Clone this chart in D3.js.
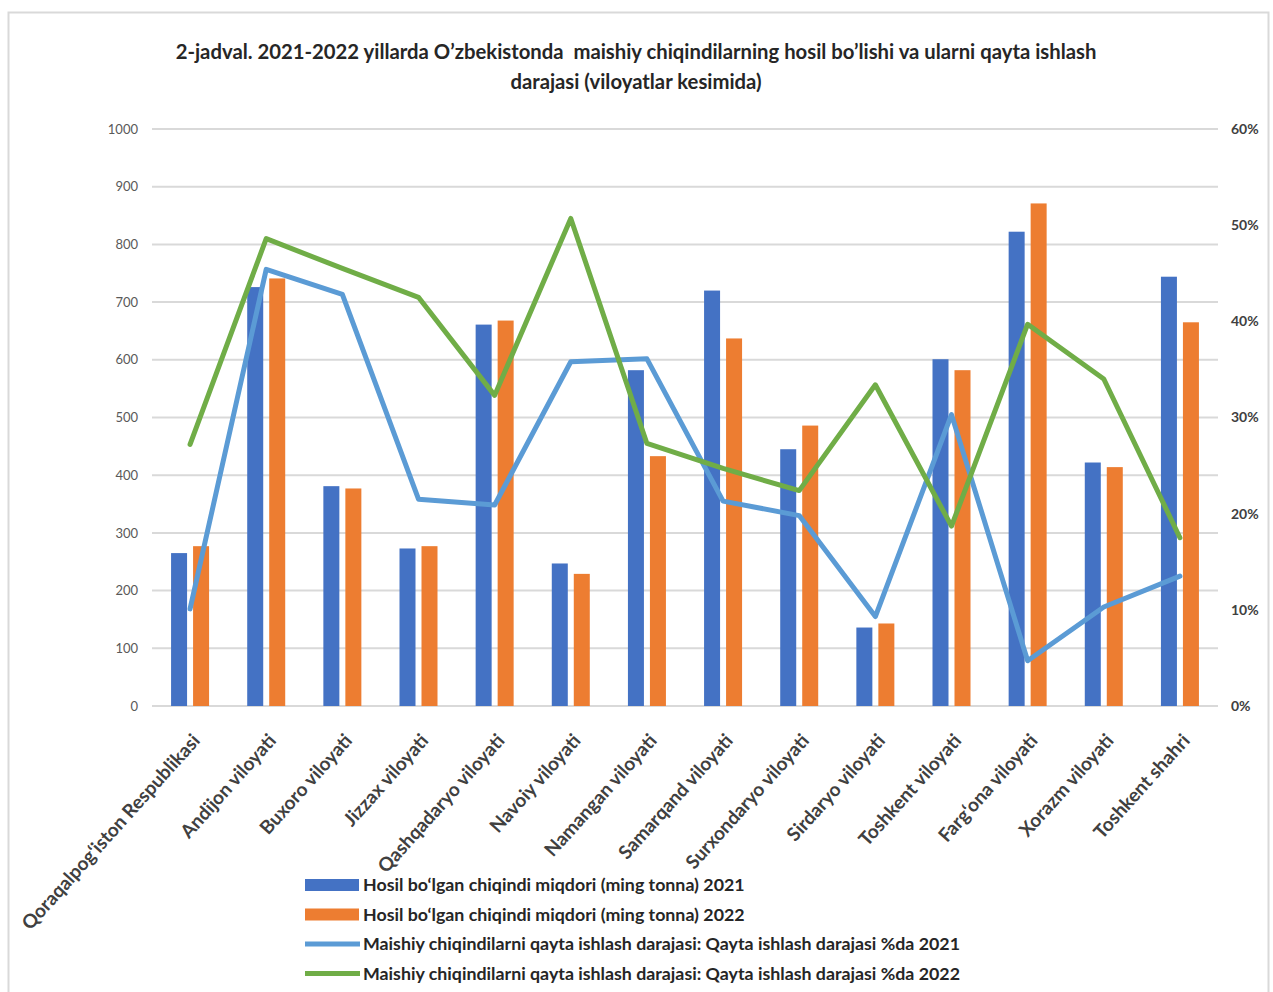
<!DOCTYPE html>
<html>
<head>
<meta charset="utf-8">
<script src="https://cdn.jsdelivr.net/npm/d3@7"></script>
<style>
  html, body { margin: 0; padding: 0; background: #ffffff; }
  svg { display: block; }
  .pre { white-space: pre; }
</style>
</head>
<body>
<svg id="chart" width="1273" height="992"></svg>
<script>
const categories = [
  "Qoraqalpog‘iston Respublikasi", "Andijon viloyati", "Buxoro viloyati", "Jizzax viloyati",
  "Qashqadaryo viloyati", "Navoiy viloyati", "Namangan viloyati", "Samarqand viloyati",
  "Surxondaryo viloyati", "Sirdaryo viloyati", "Toshkent viloyati", "Farg‘ona viloyati",
  "Xorazm viloyati", "Toshkent shahri"
];
const waste2021 = [265, 726, 381, 273, 661, 247, 582, 720, 445, 136, 601, 822, 422, 744];
const waste2022 = [277, 741, 377, 277, 668, 229, 433, 637, 486, 143, 582, 871, 414, 665];
const rate2021 = [10.1, 45.4, 42.8, 21.5, 20.9, 35.8, 36.1, 21.3, 19.8, 9.3, 30.3, 4.7, 10.3, 13.5];
const rate2022 = [27.2, 48.6, 45.5, 42.5, 32.3, 50.7, 27.3, 24.7, 22.4, 33.4, 18.7, 39.7, 34.0, 17.5];
const leftTicks = [0, 100, 200, 300, 400, 500, 600, 700, 800, 900, 1000];
const rightTicks = [0, 10, 20, 30, 40, 50, 60];
const titleLines = [
  "2-jadval. 2021-2022 yillarda O’zbekistonda  maishiy chiqindilarning hosil bo’lishi va ularni qayta ishlash",
  "darajasi (viloyatlar kesimida)"
];
const legendLabels = [
  "Hosil bo‘lgan chiqindi miqdori (ming tonna) 2021",
  "Hosil bo‘lgan chiqindi miqdori (ming tonna) 2022",
  "Maishiy chiqindilarni qayta ishlash darajasi: Qayta ishlash darajasi %da 2021",
  "Maishiy chiqindilarni qayta ishlash darajasi: Qayta ishlash darajasi %da 2022"
];

const colors = { bar21: "#4472C4", bar22: "#ED7D31", line21: "#5B9BD5", line22: "#70AD47" };
const FONT = "Lato, 'Open Sans', sans-serif";

const svg = d3.select("#chart");

// frame
svg.append("rect")
  .attr("x", 8.5).attr("y", 12.5).attr("width", 1260).attr("height", 1000)
  .attr("fill", "#ffffff").attr("stroke", "#d9d9d9").attr("stroke-width", 2);

const plot = { left: 152, right: 1218, top: 129, bottom: 706 };

const x = d3.scaleBand().domain(categories).range([plot.left, plot.right]).padding(0);
const xSub = d3.scaleBand().domain(["2021", "2022"]).range([-19, 19]).paddingInner(0.2727).paddingOuter(0);
const yL = d3.scaleLinear().domain([0, 1000]).range([plot.bottom, plot.top]);
const yR = d3.scaleLinear().domain([0, 60]).range([plot.bottom, plot.top]);

// title
svg.append("g").selectAll("text").data(titleLines).join("text")
  .attr("class", "pre")
  .attr("x", 636).attr("y", (d, i) => 59 + i * 30)
  .attr("text-anchor", "middle")
  .attr("font-family", FONT).attr("font-weight", "bold").attr("font-size", 20.3)
  .attr("fill", "#262626")
  .text(d => d);

// gridlines
svg.append("g").selectAll("line").data(leftTicks).join("line")
  .attr("x1", plot.left).attr("x2", plot.right)
  .attr("y1", d => yL(d)).attr("y2", d => yL(d))
  .attr("stroke", "#d9d9d9").attr("stroke-width", 2);

// left axis
const gL = svg.append("g").attr("transform", `translate(${plot.left - 14},0)`)
  .call(d3.axisLeft(yL).tickValues(leftTicks).tickSize(0).tickPadding(0).tickFormat(d3.format("d")));
gL.select(".domain").remove();
gL.selectAll("text").attr("font-family", FONT).attr("font-size", 13).attr("fill", "#595959");

// right axis
const gR = svg.append("g").attr("transform", `translate(${plot.right + 13},0)`)
  .call(d3.axisRight(yR).tickValues(rightTicks).tickSize(0).tickPadding(0).tickFormat(d => d + "%"));
gR.select(".domain").remove();
gR.selectAll("text").attr("font-family", FONT).attr("font-size", 14).attr("font-weight", "bold").attr("fill", "#404040");

// bars
const barData = [];
categories.forEach((c, i) => {
  barData.push({ c, s: "2021", v: waste2021[i], col: colors.bar21 });
  barData.push({ c, s: "2022", v: waste2022[i], col: colors.bar22 });
});
svg.append("g").selectAll("rect").data(barData).join("rect")
  .attr("x", d => x(d.c) + x.bandwidth() / 2 + xSub(d.s))
  .attr("width", xSub.bandwidth())
  .attr("y", d => yL(d.v))
  .attr("height", d => yL(0) - yL(d.v))
  .attr("fill", d => d.col);

// lines
const lineGen = d3.line()
  .x(d => x(d.c) + x.bandwidth() / 2)
  .y(d => yR(d.v));
[[rate2021, colors.line21], [rate2022, colors.line22]].forEach(([arr, col]) => {
  svg.append("path")
    .datum(categories.map((c, i) => ({ c, v: arr[i] })))
    .attr("d", lineGen)
    .attr("fill", "none").attr("stroke", col).attr("stroke-width", 5)
    .attr("stroke-linejoin", "round").attr("stroke-linecap", "round");
});

// x labels
const gX = svg.append("g").attr("transform", `translate(6,${plot.bottom + 31})`)
  .call(d3.axisBottom(x).tickSize(0).tickPadding(0));
gX.select(".domain").remove();
gX.selectAll("text")
  .attr("font-family", FONT).attr("font-size", 19).attr("font-weight", "bold").attr("fill", "#404040")
  .attr("text-anchor", "end").attr("dy", "0.35em")
  .attr("transform", "rotate(-48)");

// legend
const legend = svg.append("g");
const lg = legend.selectAll("g").data(legendLabels).join("g")
  .attr("transform", (d, i) => `translate(305,${885 + i * 29.5})`);
lg.each(function (d, i) {
  const g = d3.select(this);
  if (i < 2) {
    g.append("rect").attr("x", 0).attr("y", -6).attr("width", 54).attr("height", 12)
      .attr("fill", i === 0 ? colors.bar21 : colors.bar22);
  } else {
    g.append("line").attr("x1", 0).attr("x2", 55).attr("y1", 0).attr("y2", 0)
      .attr("stroke", i === 2 ? colors.line21 : colors.line22).attr("stroke-width", 5);
  }
  g.append("text").attr("x", 58).attr("y", 0).attr("dy", "0.35em")
    .attr("font-family", FONT).attr("font-size", 17.8).attr("font-weight", "bold").attr("fill", "#262626")
    .text(d);
});
</script>
</body>
</html>
